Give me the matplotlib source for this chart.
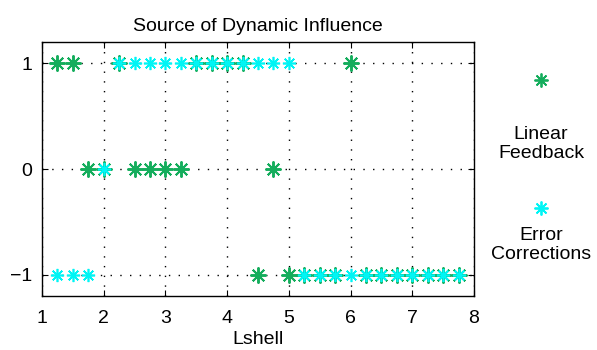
import matplotlib
matplotlib.use('Agg')
import matplotlib.pyplot as plt
from matplotlib.lines import Line2D

plt.rcParams['font.family'] = ['Liberation Sans', 'DejaVu Sans']

# L-shell positions and source flags (1 / 0 / -1)
lshell = [1.25, 1.5, 1.75, 2.0, 2.25, 2.5, 2.75, 3.0, 3.25, 3.5, 3.75, 4.0, 4.25,
          4.5, 4.75, 5.0, 5.25, 5.5, 5.75, 6.0, 6.25, 6.5, 6.75, 7.0, 7.25, 7.5, 7.75]
linear_feedback = [1, 1, 0, 0, 1, 0, 0, 0, 0, 1, 1, 1, 1,
                   -1, 0, -1, -1, -1, -1, 1, -1, -1, -1, -1, -1, -1, -1]
error_corrections = [-1, -1, -1, 0, 1, 1, 1, 1, 1, 1, 1, 1, 1,
                     1, 1, 1, -1, -1, -1, -1, -1, -1, -1, -1, -1, -1, -1]

green = '#14ad5c'
cyan = '#00f5f5'
asterisk = (8, 2, 0)

fig = plt.figure(figsize=(5.97, 3.5), dpi=100)
ax = fig.add_axes([0.0704, 0.154, 0.7236, 0.726])

ax.plot(lshell, linear_feedback, linestyle='none', marker=asterisk,
        markersize=11.5, markeredgewidth=1.4, color=green, zorder=3)
ax.plot(lshell, error_corrections, linestyle='none', marker=asterisk,
        markersize=9.5, markeredgewidth=1.2, color=cyan, zorder=4)

ax.set_xlim(1, 8)
ax.set_ylim(-1.2, 1.2)
ax.set_xticks(range(1, 9))
ax.set_yticks([-1, 0, 1])
ax.set_yticklabels(['\u22121', '0', '1'])
ax.grid(True, color='black', linestyle=(0, (1, 6)), linewidth=1.0)
ax.tick_params(direction='in', top=True, right=True, length=4, labelsize=14)
ax.tick_params(axis='x', pad=10)
ax.tick_params(axis='y', pad=7)
for s in ax.spines.values():
    s.set_linewidth(1.0)
ax.set_title('Source of Dynamic Influence', fontsize=14, pad=8)
ax.set_xlabel('Lshell', fontsize=14, labelpad=3)

# legend drawn by hand: marker above the label, outside on the right
fig.add_artist(Line2D([541 / 597], [1 - 80 / 350], transform=fig.transFigure,
                      marker=asterisk, markersize=10, markeredgewidth=1.3,
                      color=green, linestyle='none'))
fig.text(541 / 597, 1 - 144 / 350, 'Linear\nFeedback', ha='center', va='center',
         fontsize=14, linespacing=1.2)
fig.add_artist(Line2D([541 / 597], [1 - 208 / 350], transform=fig.transFigure,
                      marker=asterisk, markersize=10, markeredgewidth=1.3,
                      color=cyan, linestyle='none'))
fig.text(541 / 597, 1 - 245 / 350, 'Error\nCorrections', ha='center', va='center',
         fontsize=14, linespacing=1.2)

fig.savefig('out.png', dpi=100)
